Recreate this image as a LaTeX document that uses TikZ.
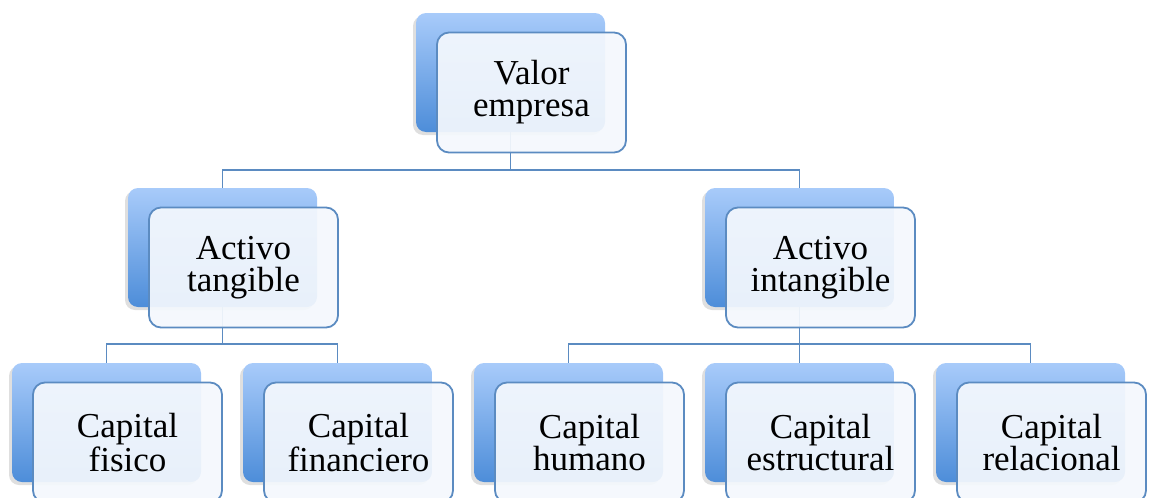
\documentclass[tikz,border=0pt]{standalone}
\usepackage{fontspec}
\setmainfont{Liberation Serif}
\usetikzlibrary{shadows,backgrounds}
\definecolor{boxtop}{HTML}{A8CBFA}
\definecolor{boxbot}{HTML}{4D8DD9}
\definecolor{edge}{HTML}{5B8BC1}
\definecolor{paper}{HTML}{F4F8FD}
\tikzset{
  backbox/.style={minimum width=189pt,minimum height=119pt,inner sep=0pt,
    rounded corners=10pt,top color=boxtop,bottom color=boxbot,
    drop shadow={shadow xshift=-3pt,shadow yshift=-3pt,opacity=.25}},
  frontbox/.style={minimum width=189pt,minimum height=120pt,inner sep=0pt,
    rounded corners=12pt,draw=edge,line width=1.8pt,fill=paper,fill opacity=.93,
    text opacity=1,align=center,font=\fontsize{35}{32}\selectfont},
  conn/.style={draw=edge,line width=1.8pt}
}
\begin{document}
\begin{tikzpicture}[x=1pt,y=-1pt]
\useasboundingbox (0,0) rectangle (1152,498);
\clip (0,0) rectangle (1152,498);
% top
\node[backbox] (valorb) at (510.5,72.5) {};
\node[frontbox] (valorf) at ([shift={(21,20)}]valorb.center) {Valor\\empresa};
% second row
\node[backbox] (tangb) at (222.5,247.5) {};
\node[frontbox] (tangf) at ([shift={(21,20)}]tangb.center) {Activo\\tangible};
\node[backbox] (intangb) at (799.5,247.5) {};
\node[frontbox] (intangf) at ([shift={(21,20)}]intangb.center) {Activo\\intangible};
% third row
\node[backbox] (fisicob) at (106.5,422.5) {};
\node[frontbox] (fisicof) at ([shift={(21,20)}]fisicob.center) {Capital\\fisico};
\node[backbox] (financb) at (337.5,422.5) {};
\node[frontbox] (financf) at ([shift={(21,20)}]financb.center) {Capital\\financiero};
\node[backbox] (humanob) at (568.5,422.5) {};
\node[frontbox] (humanof) at ([shift={(21,20)}]humanob.center) {Capital\\humano};
\node[backbox] (estructb) at (799.5,422.5) {};
\node[frontbox] (estructf) at ([shift={(21,20)}]estructb.center) {Capital\\estructural};
\node[backbox] (relacb) at (1030.5,422.5) {};
\node[frontbox] (relacf) at ([shift={(21,20)}]relacb.center) {Capital\\relacional};
% connectors
\begin{scope}[on background layer]
\coordinate (topbus) at (510.5,170);
\draw[conn] (valorb.south) -- (topbus) -| (tangb.north);
\draw[conn] (topbus) -| (intangb.north);
\coordinate (leftbus) at (222.5,344);
\draw[conn] (tangb.south) -- (leftbus) -| (fisicob.north);
\draw[conn] (leftbus) -| (financb.north);
\coordinate (rightbus) at (799.5,344);
\draw[conn] (intangb.south) -- (rightbus) -| (humanob.north);
\draw[conn] (rightbus) -| (relacb.north);
\draw[conn] (rightbus) -- (estructb.north);
\end{scope}
\end{tikzpicture}
\end{document}
